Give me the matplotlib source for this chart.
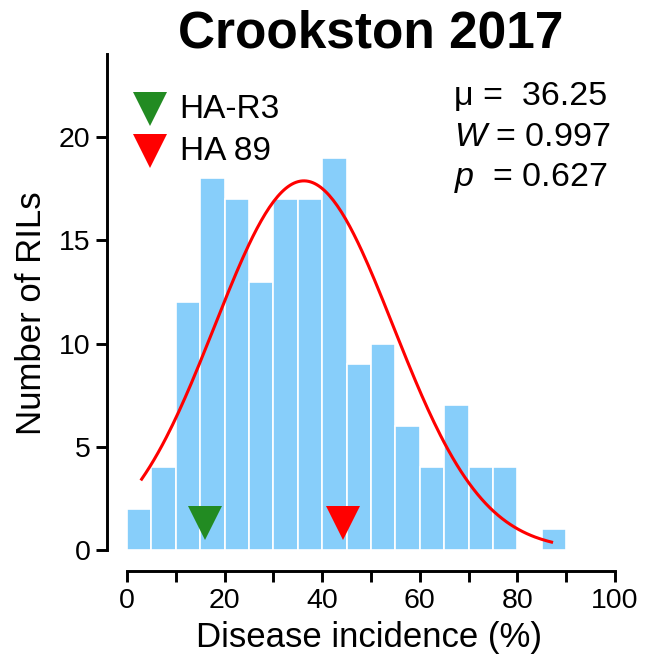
import numpy as np
import matplotlib
matplotlib.use("Agg")
import matplotlib.pyplot as plt

plt.rcParams["font.family"] = ["Liberation Sans", "DejaVu Sans"]
plt.rcParams["mathtext.fontset"] = "custom"
plt.rcParams["mathtext.it"] = "Liberation Sans:italic"
plt.rcParams["mathtext.rm"] = "Liberation Sans"

# histogram data (bin width 5)
bin_edges = np.arange(0, 95, 5)
counts = [2, 4, 12, 18, 17, 13, 17, 17, 19, 9, 10, 6, 4, 7, 4, 4, 0, 1]

# parents
parent_names = ["HA-R3", "HA 89"]
parent_values = [16.0, 44.3]
parent_colors = ["#228B22", "#FF0000"]

# normal fit
mu = 36.25
sd = 18.3
x_min, x_max = 3, 87
n_total = sum(counts)
bin_w = 5

stats_lines = ["μ =  36.25", r"$\mathit{W}$ = 0.997", r"$\mathit{p}$  = 0.627"]

fig = plt.figure(figsize=(6.48, 6.55), dpi=100)
W, H = 648, 655
ax_l, ax_r, ax_t, ax_b = 107, 630, 55, 571
ax = fig.add_axes([ax_l / W, 1 - ax_b / H, (ax_r - ax_l) / W, (ax_b - ax_t) / H])

ax.bar(bin_edges[:-1], counts, width=bin_w, align="edge",
       color="#87CEFA", edgecolor="white", linewidth=1.2, zorder=2)

xs = np.linspace(x_min, x_max, 200)
ys = n_total * bin_w / (sd * np.sqrt(2 * np.pi)) * np.exp(-(xs - mu) ** 2 / (2 * sd ** 2))
ax.plot(xs, ys, color="#FF0000", lw=2.2, zorder=3)

for v, c in zip(parent_values, parent_colors):
    ax.plot(v, 1.3, marker="v", color=c, markersize=24, markeredgewidth=0, zorder=4)

# legend
for i, (name, c) in enumerate(zip(parent_names, parent_colors)):
    yy = 21.35 - 2.05 * i
    ax.plot(4.7, yy, marker="v", color=c, markersize=24, markeredgewidth=0,
            clip_on=False)
    ax.text(10.8, yy, name, fontsize=24, va="center", ha="left")

for i, s in enumerate(stats_lines):
    ax.text(67.0, 21.95 - 1.97 * i, s, fontsize=24.5, va="center", ha="left")

ax.set_xlim((ax_l - 127) / 4.88, (ax_r - 127) / 4.88)
ax.set_ylim((550 - ax_b) / 20.65, (550 - ax_t) / 20.65)

for s in ["top", "right"]:
    ax.spines[s].set_visible(False)
ax.spines["left"].set_bounds(0, 24)
ax.spines["bottom"].set_bounds(0, 100)
for s in ["left", "bottom"]:
    ax.spines[s].set_linewidth(2.1)

ax.set_xticks(np.arange(0, 101, 10))
ax.set_xticklabels([str(t) if t % 20 == 0 else "" for t in range(0, 101, 10)])
ax.set_yticks([0, 5, 10, 15, 20])
ax.tick_params(width=2.1, length=8, labelsize=20.5, pad=4)

ax.set_xlabel("Disease incidence (%)", fontsize=25, labelpad=5)
ax.set_ylabel("Number of RILs", fontsize=25, labelpad=8)

fig.text(371 / W, 1 - 34 / H, "Crookston 2017", fontsize=37, fontweight="bold",
         ha="center", va="center")

fig.savefig("out.png", dpi=100)
